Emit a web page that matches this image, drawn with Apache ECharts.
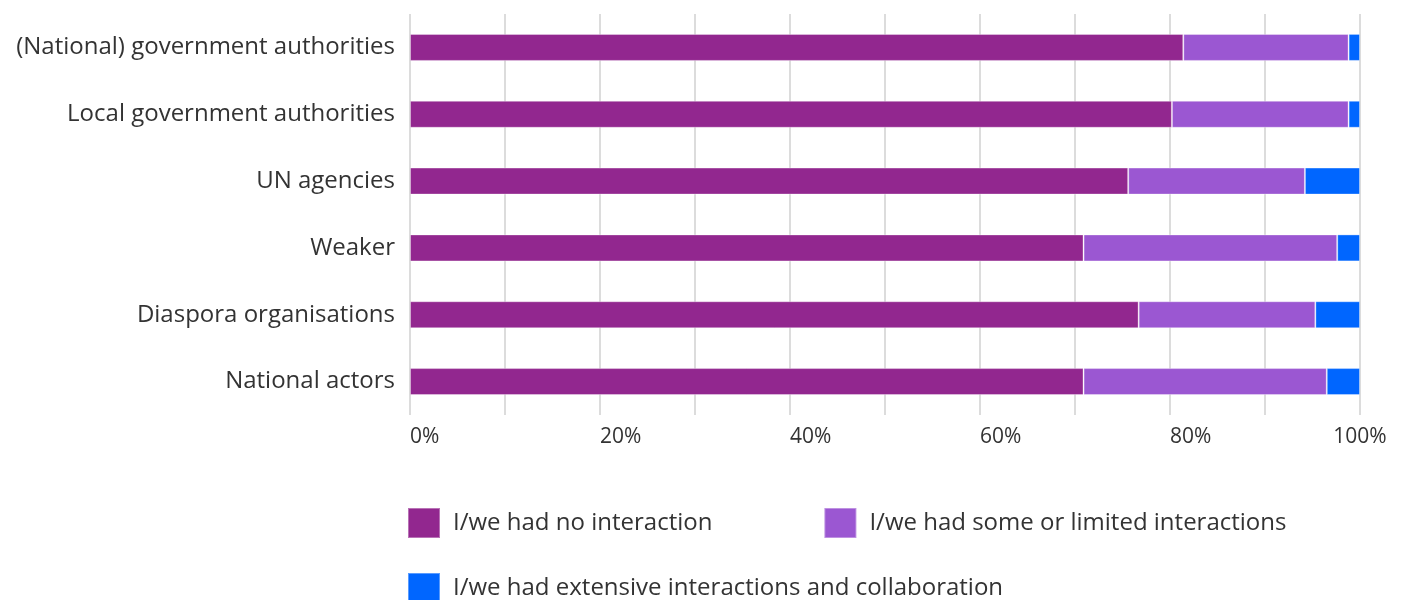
<!DOCTYPE html>
<html>
<head>
<meta charset="utf-8">
<script src="https://cdn.jsdelivr.net/npm/echarts@6/dist/echarts.min.js"></script>
<style>
  html, body { margin: 0; padding: 0; background: #fff; }
  #bar { width: 1402px; height: 600px; }
</style>
</head>
<body>
<div id="bar"></div>
<script>
// categories, top to bottom
const categories = [
    '(National) government authorities',
    'Local government authorities',
    'UN agencies',
    'Weaker',
    'Diaspora organisations',
    'National actors'
];
const noInteraction = [81.4, 80.2, 75.6, 70.9, 76.7, 70.9];
const limitedInteraction = [17.4, 18.6, 18.6, 26.7, 18.6, 25.6];
const extensiveInteraction = [1.2, 1.2, 5.8, 2.4, 4.7, 3.5];
const seriesNames = [
    'I/we had no interaction',
    'I/we had some or limited interactions',
    'I/we had extensive interactions and collaboration'
];
const colors = ['#92278f', '#9b57d2', '#0066ff'];

const font = '"Open Sans", sans-serif';
let myChart = echarts.init(document.getElementById('bar'));

const legendCommon = {
    orient: 'horizontal',
    left: 407,
    padding: 0,
    itemWidth: 32,
    itemHeight: 30,
    icon: 'rect',
    textStyle: { fontSize: 24, color: '#333', fontFamily: font, padding: [0, 0, 0, 8] },
    selectedMode: false
};

myChart.setOption({
    color: colors,
    animation: false,
    grid: { left: 410, right: 42, top: 14, bottom: 185, containLabel: false },
    legend: [
        Object.assign({}, legendCommon, { top: 507, itemGap: 111, data: seriesNames.slice(0, 2) }),
        Object.assign({}, legendCommon, { top: 572, data: seriesNames.slice(2) })
    ],
    xAxis: {
        type: 'value',
        min: 0,
        max: 100,
        interval: 10,
        axisLine: { show: false },
        axisTick: { show: false },
        splitLine: { lineStyle: { color: '#dcdcdc', width: 2 } },
        axisLabel: {
            formatter: v => (v % 20 === 0 ? v + '%' : ''),
            align: 'left',
            alignMaxLabel: 'center',
            margin: 12,
            fontSize: 21,
            color: '#333',
            fontFamily: font
        }
    },
    yAxis: {
        type: 'category',
        inverse: true,
        data: categories,
        axisLine: { show: false },
        axisTick: { show: false },
        axisLabel: { margin: 15, fontSize: 24, color: '#333', fontFamily: font }
    },
    series: [noInteraction, limitedInteraction, extensiveInteraction].map((d, i) => ({
        name: seriesNames[i],
        type: 'bar',
        stack: 'total',
        barWidth: 27,
        itemStyle: { borderColor: 'rgba(255,255,255,0.35)', borderWidth: 1 },
        data: d
    }))
});
</script>
</body>
</html>
